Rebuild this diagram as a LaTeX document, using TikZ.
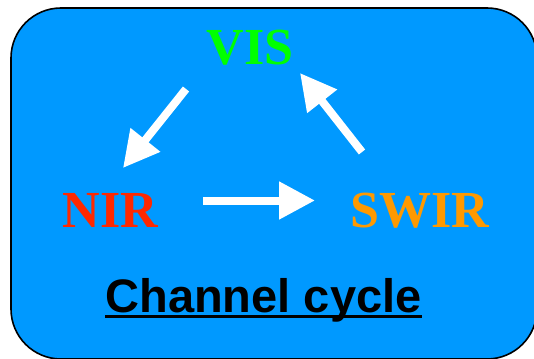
\documentclass[tikz,border=0pt]{standalone}
\usepackage{fontspec}
\newfontfamily\tnrfont{Liberation Serif}
\newfontfamily\arialfont{Liberation Sans}
\usetikzlibrary{arrows.meta}
\definecolor{bgblue}{RGB}{0,153,255}
\definecolor{visgreen}{RGB}{0,255,0}
\definecolor{nirred}{RGB}{255,40,0}
\definecolor{swirorange}{RGB}{255,153,0}
\tikzset{
  band/.style={font=\tnrfont\bfseries\fontsize{52}{52}\selectfont, inner sep=0pt, anchor=base},
  flow/.style={draw=white, line width=8pt, -{Triangle[width=36pt,length=36pt]}},
  frame/.style={draw=black, line width=1.6pt, fill=bgblue, rounded corners=50pt}
}
\begin{document}
\begin{tikzpicture}[x=1pt,y=-1pt]
\useasboundingbox (0,0) rectangle (534,358);
\clip (0,0) rectangle (534,358);
\draw[frame] (11,8) rectangle (537,359);
\node[band, text=visgreen] (vis) at (250,65) {VIS};
\node[band, text=nirred] (nir) at (110.5,227) {NIR};
\node[band, text=swirorange] (swir) at (420,227) {SWIR};
\node[font=\arialfont\bfseries\fontsize{47}{47}\selectfont, inner sep=0pt, anchor=base] (cc) at (263.5,312) {Channel cycle};
\draw[line width=2.6pt] ([yshift=-4.5pt]cc.base west) -- ([yshift=-4.5pt]cc.base east);
\coordinate (a1s) at (186,89);
\coordinate (a1e) at (123,168);
\coordinate (a2s) at (203,200.5);
\coordinate (a2e) at (315,200.5);
\coordinate (a3s) at (362,152);
\coordinate (a3e) at (300,73);
\draw[flow] (a1s) -- (a1e);
\draw[flow] (a2s) -- (a2e);
\draw[flow] (a3s) -- (a3e);
\end{tikzpicture}
\end{document}
